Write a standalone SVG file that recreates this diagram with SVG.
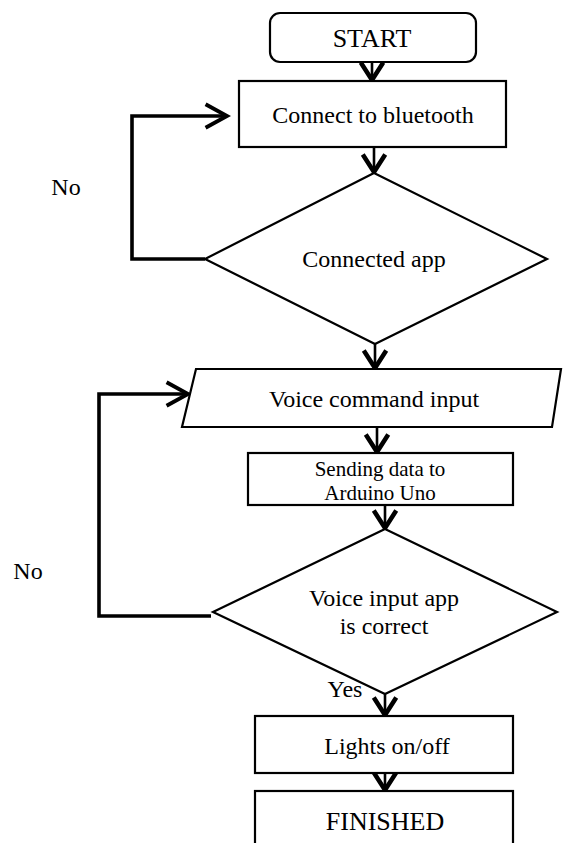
<svg xmlns="http://www.w3.org/2000/svg" width="564" height="843" viewBox="0 0 564 843">
<style>
.shape{fill:#fff;stroke:#000;stroke-width:2.2}
.t{font-family:"Liberation Serif","Times New Roman",serif;fill:#000;text-anchor:middle}
.conn{fill:none;stroke:#000;stroke-width:2.6;marker-end:url(#ah)}
.loop{fill:none;stroke:#000;stroke-width:3.6;marker-end:url(#ahl)}
</style>
<defs>
<marker id="ah" markerUnits="userSpaceOnUse" markerWidth="30" markerHeight="30" viewBox="-16 -12 20 24" refX="0" refY="0" orient="auto" overflow="visible">
<path d="M-14,-9 L0,0 L-14,9" fill="none" stroke="#000" stroke-width="3.6"/>
</marker>
<marker id="ahl" markerUnits="userSpaceOnUse" markerWidth="30" markerHeight="30" viewBox="-22 -14 26 28" refX="0" refY="0" orient="auto" overflow="visible">
<path d="M-20,-11 L0,0 L-20,11" fill="none" stroke="#000" stroke-width="3.6"/>
</marker>
</defs>
<rect width="564" height="843" fill="#fff"/>
<g id="connectors">
<line class="conn" x1="372" y1="62" x2="372" y2="80"/>
<line class="conn" x1="374" y1="147" x2="374" y2="172"/>
<line class="conn" x1="375" y1="344" x2="375" y2="368"/>
<line class="conn" x1="377" y1="427" x2="377" y2="452"/>
<line class="conn" x1="385" y1="505" x2="385" y2="528"/>
<line class="conn" x1="385" y1="693" x2="385" y2="715"/>
<line class="conn" x1="385" y1="773" x2="385" y2="790"/>
<polyline class="loop" points="205,259 132,259 132,116 227,116"/>
<polyline class="loop" points="211,616 99,616 99,394 188,394"/>
<text class="t" x="66" y="195" font-size="24">No</text>
<text class="t" x="28" y="579" font-size="24">No</text>
<text class="t" x="345" y="697" font-size="24">Yes</text>
</g>
<g id="start">
<rect class="shape" x="270" y="13" width="206" height="49" rx="10"/>
<text class="t" x="372" y="47" font-size="26">START</text>
</g>
<g id="connect">
<rect class="shape" x="239" y="81" width="267" height="66"/>
<text class="t" x="373" y="123" font-size="24">Connect to bluetooth</text>
</g>
<g id="connected">
<polygon class="shape" points="374,173 547,259 375,344 205,259"/>
<text class="t" x="374" y="267" font-size="24">Connected app</text>
</g>
<g id="voice-input">
<polygon class="shape" points="196,369 561,369 552,427 182,427"/>
<text class="t" x="374" y="407" font-size="24">Voice command input</text>
</g>
<g id="sending">
<rect class="shape" x="248" y="453" width="265" height="52"/>
<text class="t" x="380" y="476" font-size="21">Sending data to</text>
<text class="t" x="380" y="500" font-size="21">Arduino Uno</text>
</g>
<g id="correct">
<polygon class="shape" points="385,529 557,612 385,694 213,612"/>
<text class="t" x="384" y="606" font-size="24">Voice input app</text>
<text class="t" x="384" y="634" font-size="24">is correct</text>
</g>
<g id="lights">
<rect class="shape" x="255" y="716" width="258" height="57"/>
<text class="t" x="387" y="754" font-size="24">Lights on/off</text>
</g>
<g id="finished">
<rect class="shape" x="255" y="791" width="258" height="60"/>
<text class="t" x="385" y="830" font-size="26">FINISHED</text>
</g>
</svg>
